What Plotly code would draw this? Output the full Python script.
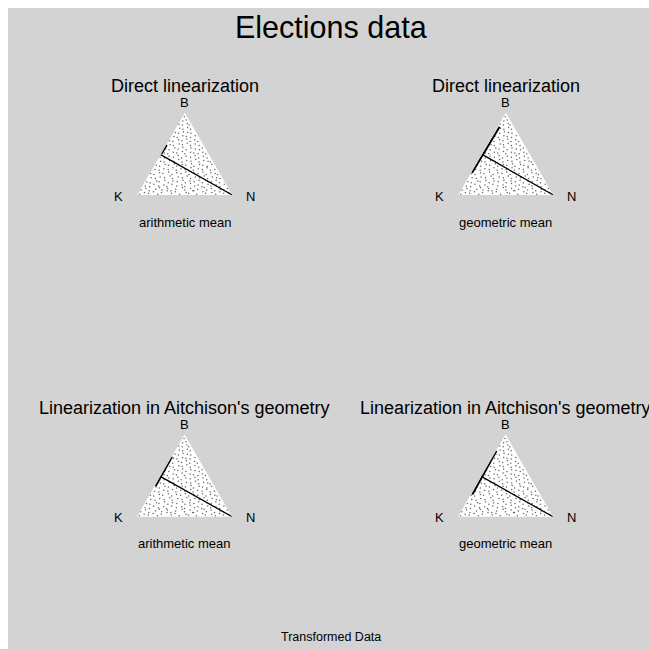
import plotly.graph_objects as go

# Vote shares (percent) for parties B and N; K makes up the rest.
share_B = [1, 3, 2, 4, 1, 3, 5, 2, 4, 1, 3, 2, 5, 1, 4, 2, 3, 1, 4, 2, 3,
           6, 8, 5, 7, 9, 6, 8, 5, 7, 9, 6, 8, 5, 7, 9, 6, 8, 5, 7, 6, 8,
           11, 10, 13, 11, 12, 10, 13, 11, 12, 10, 14, 11, 12, 10, 13, 11, 12, 10, 13,
           16, 15, 17, 16, 18, 15, 17, 16, 18, 15, 17, 16, 18, 15, 17, 16, 18, 15,
           21, 20, 22, 21, 23, 20, 22, 21, 23, 20, 22, 21, 23, 20, 22, 21, 20,
           26, 25, 27, 26, 28, 25, 27, 26, 28, 25, 27, 26, 28, 25, 27, 26, 25,
           31, 30, 32, 31, 33, 30, 32, 31, 33, 30, 32, 31, 33, 30, 31,
           36, 35, 37, 36, 38, 35, 37, 36, 38, 35, 37, 36, 35, 37,
           41, 40, 42, 41, 43, 40, 42, 41, 43, 40, 42, 41, 40,
           46, 45, 47, 46, 48, 45, 47, 46, 48, 45, 47, 45,
           51, 50, 52, 51, 53, 50, 52, 51, 50, 52, 50,
           56, 55, 57, 56, 58, 55, 57, 56, 55, 57,
           61, 60, 62, 61, 63, 60, 62, 60,
           66, 65, 67, 66, 68, 65, 67, 65,
           71, 70, 72, 71, 70, 72,
           76, 75, 77, 76, 75,
           81, 80, 82, 80,
           86, 85, 87, 85,
           90, 91,
           95]
share_N = [2, 6, 11, 15, 21, 24, 29, 35, 38, 44, 50, 53, 57, 62, 67, 71, 77, 82, 85, 90, 95,
           1, 5, 10, 16, 19, 23, 28, 33, 37, 43, 47, 52, 56, 60, 66, 70, 74, 79, 84, 88, 91,
           3, 8, 11, 17, 22, 26, 30, 36, 41, 45, 49, 55, 58, 63, 68, 72, 77, 82, 85,
           2, 6, 12, 15, 20, 25, 29, 34, 39, 43, 47, 52, 56, 61, 65, 70, 74, 79,
           4, 9, 13, 18, 23, 27, 32, 37, 41, 46, 50, 55, 59, 64, 68, 73, 77,
           1, 5, 10, 14, 19, 24, 28, 33, 37, 42, 46, 51, 55, 60, 64, 69, 72,
           3, 8, 12, 17, 21, 26, 30, 35, 40, 44, 48, 53, 57, 62, 66,
           2, 6, 11, 15, 20, 24, 29, 33, 38, 42, 47, 51, 56, 60,
           4, 8, 13, 18, 22, 27, 31, 36, 40, 45, 49, 54, 57,
           1, 6, 10, 15, 19, 24, 28, 33, 37, 42, 46, 51,
           3, 7, 12, 16, 21, 25, 30, 34, 39, 43, 47,
           2, 6, 11, 15, 19, 24, 28, 33, 38, 40,
           4, 8, 13, 17, 21, 26, 30, 35,
           1, 5, 10, 14, 18, 23, 27, 31,
           3, 7, 12, 16, 21, 25,
           2, 6, 10, 15, 19,
           4, 8, 12, 16,
           1, 5, 9, 12,
           3, 6,
           2]
share_K = [100 - b - n for b, n in zip(share_B, share_N)]

panel_titles = ["Direct linearization", "Direct linearization",
                "Linearization in Aitchison's geometry",
                "Linearization in Aitchison's geometry"]
panel_means = ["arithmetic mean", "geometric mean",
               "arithmetic mean", "geometric mean"]

# Fitted line from the N vertex to the K-B edge
line_B = [[49, 0], [49, 0], [49, 0], [49, 0]]
line_N = [[0, 100], [1, 100], [0, 100], [0, 100]]
# Short principal segment near the K-B edge
seg_B = [[50, 61], [27, 83], [37, 73], [27, 80]]
seg_N = [[0.5, 0.5], [1, 2], [1, 0.5], [1.6, 0.5]]

W = H = 649
MARGIN = 8  # white page border around the grey panel


def px(x):
    return x / W


def py(y):
    return 1 - y / H


# pixel position of each triangle: left corner x, base y
tri_pos = [(137.3, 195.0), (458.3, 195.0), (137.0, 516.7), (458.0, 516.7)]
TW, TH = 95.0, 82.3

fig = go.Figure()
layout_extra = {}
annotations = []
FONT = "Liberation Sans, Arial, sans-serif"

for i, (kx, by) in enumerate(tri_pos):
    name = "ternary" if i == 0 else f"ternary{i+1}"
    axis_style = dict(showticklabels=False, ticks="", showgrid=False,
                      showline=False, linewidth=0, title=dict(text=""))
    layout_extra[name] = dict(
        domain=dict(x=[px(kx), px(kx + TW)], y=[py(by), py(by - TH)]),
        bgcolor="white", sum=100,
        aaxis=axis_style, baxis=axis_style, caxis=axis_style,
    )
    fig.add_trace(go.Scatterternary(
        a=share_B, b=share_K, c=share_N, mode="markers", subplot=name,
        marker=dict(size=1.5, color="#4a4a4a", opacity=0.85, line=dict(width=0)),
        showlegend=False, hoverinfo="skip"))
    lb = line_B[i]
    ln = line_N[i]
    fig.add_trace(go.Scatterternary(
        a=lb, c=ln, b=[100 - a - c for a, c in zip(lb, ln)], mode="lines",
        subplot=name, line=dict(color="black", width=1.3),
        showlegend=False, hoverinfo="skip"))
    sb = seg_B[i]
    sn = seg_N[i]
    fig.add_trace(go.Scatterternary(
        a=sb, c=sn, b=[100 - a - c for a, c in zip(sb, sn)], mode="lines",
        subplot=name, line=dict(color="black", width=2),
        showlegend=False, hoverinfo="skip"))

    cx = kx + TW / 2
    annotations += [
        dict(text=panel_titles[i], x=px(cx), y=py(by - 109), font=dict(size=18)),
        dict(text="B", x=px(cx), y=py(by - 92), font=dict(size=13)),
        dict(text="K", x=px(kx - 19), y=py(by + 1), font=dict(size=13)),
        dict(text="N", x=px(kx + TW + 18), y=py(by + 1), font=dict(size=13)),
        dict(text=panel_means[i], x=px(cx), y=py(by + 27), font=dict(size=13)),
    ]

annotations += [
    dict(text="Elections data", x=px(331), y=py(27), font=dict(size=30.5)),
    dict(text="Transformed Data", x=px(331), y=py(637), font=dict(size=12.5)),
]
for a in annotations:
    a.update(xref="paper", yref="paper", showarrow=False,
             xanchor="center", yanchor="middle")
    a["font"].update(family=FONT, color="black")

shapes = [dict(type="rect", xref="paper", yref="paper",
               x0=px(MARGIN), x1=1, y0=0, y1=py(MARGIN),
               fillcolor="#d3d3d3", line=dict(width=0), layer="below")]

fig.update_layout(
    width=W, height=H, margin=dict(l=0, r=0, t=0, b=0),
    paper_bgcolor="white", plot_bgcolor="#d3d3d3",
    font=dict(family=FONT), annotations=annotations, shapes=shapes,
    **layout_extra)

fig.write_html("out.html")
